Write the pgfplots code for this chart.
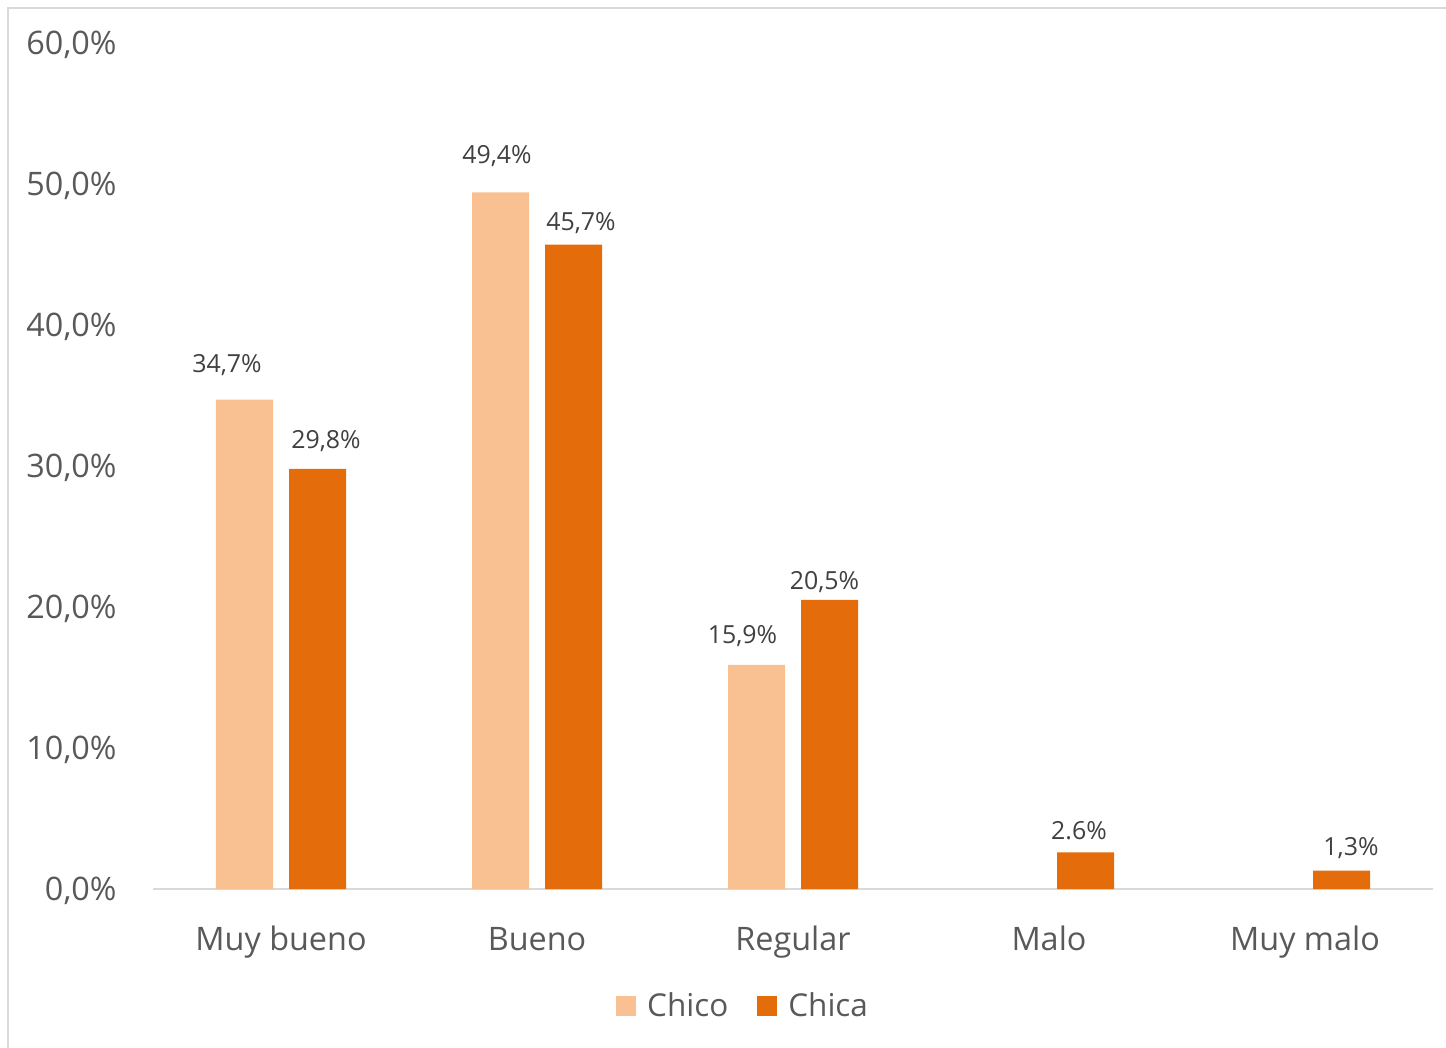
\documentclass[border=0pt]{standalone}
\usepackage{pgfplots}
\pgfplotsset{compat=1.18}
\usepackage{pgfplotstable}
\usepackage{fontspec}
\setmainfont{Open Sans}
\definecolor{chico}{HTML}{F9C191}
\definecolor{chica}{HTML}{E46C0A}
\definecolor{tickgray}{HTML}{595959}
\definecolor{labgray}{HTML}{404040}
\definecolor{framegray}{HTML}{D9D9D9}
\pgfplotstableread{
x y lab dx dy
0 34.7 {34,7\%} -8.75 13.5
1 49.4 {49,4\%} -1.75 14.5
2 15.9 {15,9\%} -7 10.5
}\chico
\pgfplotstableread{
x y lab dx dy
0 29.8 {29,8\%} 4.25 10
1 45.7 {45,7\%} 3.75 7
2 20.5 {20,5\%} -2.5 5
3 2.6 {2.6\%} -3.25 6.5
4 1.3 {1,3\%} 4.75 7.5
}\chica
\begin{document}
\begin{tikzpicture}
\path[use as bounding box] (0,0) rectangle (723bp,524bp);
\draw[framegray, line width=1bp] (4bp,0) -- (4bp,520bp) -- (723bp,520bp);
\begin{axis}[
  at={(76.5bp,79.5bp)}, anchor=south west,
  scale only axis, width=640bp, height=423bp,
  xmin=-0.5, xmax=4.5, ymin=0, ymax=60,
  axis line style={draw=none},
  axis x line*=bottom,
  ytick={0,10,...,60},
  yticklabels={{0,0\%},{10,0\%},{20,0\%},{30,0\%},{40,0\%},{50,0\%},{60,0\%}},
  xtick={0,1,2,3,4},
  xticklabels={Muy bueno,Bueno,Regular,Malo,Muy malo},
  major tick length=0pt,
  tick style={draw=none},
  yticklabel style={font=\fontsize{16.25}{19}\selectfont, text=tickgray, anchor=base east, inner sep=0pt, xshift=-18bp, yshift=-5.8bp},
  xticklabel style={font=\fontsize{16.25}{19}\selectfont, text=tickgray, anchor=base, inner sep=0pt, yshift=-30.5bp},
  ybar, bar width=28.5bp,
  clip=false,
  legend style={at={(0.4602,-0.1383)}, anchor=center, draw=none, fill=none,
    font=\fontsize{15.8}{19}\selectfont, text=tickgray, legend columns=2,
    /tikz/every odd column/.append style={column sep=5.5bp},
    /tikz/every even column/.append style={column sep=14.5bp},
    inner sep=0pt, nodes={inner sep=0pt}},
  legend image code/.code={\fill[#1] (0bp,-5bp) rectangle (10bp,5bp);},
  nodes near coords={\pgfplotspointmeta},
  point meta=explicit symbolic,
  visualization depends on={\thisrow{dx}\as\dx},
  visualization depends on={\thisrow{dy}\as\dy},
  every node near coord/.append style={font=\fontsize{12.5}{15}\selectfont, text=labgray, anchor=base, inner sep=0pt, xshift=\dx bp, yshift=\dy bp},
]
\draw[framegray, line width=1bp] (axis cs:-0.5,0) -- (axis cs:4.5,0);
\addplot[fill=chico, draw=none, bar shift=-18.25bp] table[x=x,y=y,meta=lab] {\chico};
\addplot[fill=chica, draw=none, bar shift=18.25bp] table[x=x,y=y,meta=lab] {\chica};
\legend{Chico,Chica}
\end{axis}
\end{tikzpicture}
\end{document}
